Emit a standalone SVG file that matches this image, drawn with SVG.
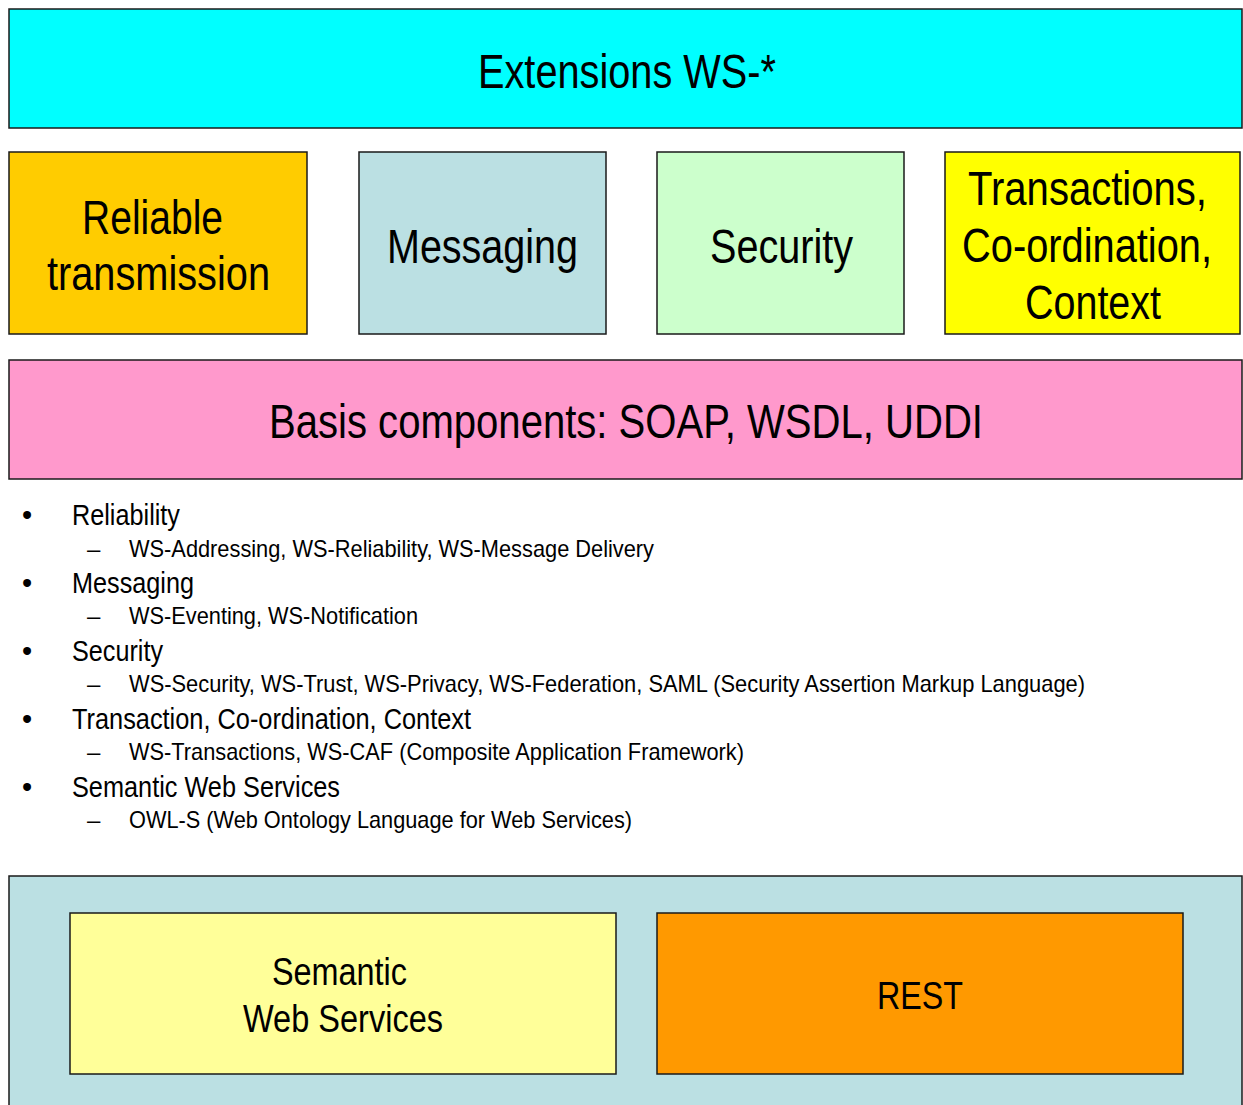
<svg xmlns="http://www.w3.org/2000/svg" width="1243" height="1105" viewBox="0 0 1243 1105">
<style>
.b{stroke:#1a1a1a;stroke-width:1.5}
text{font-family:"Liberation Sans Narrow","Arial Narrow","Liberation Sans",sans-serif;fill:#000}
.big{font-size:48px}
.h{font-size:29px}
.s{font-size:24px}
.m{font-size:38px}
</style>
<rect width="1243" height="1105" fill="#fff"/>
<g id="extensions"><rect class="b" x="9" y="9" width="1233" height="119" fill="#00FFFF"/><text class="big" x="478" y="88" textLength="298" lengthAdjust="spacingAndGlyphs">Extensions WS-*</text></g>
<g id="reliable"><rect class="b" x="9" y="152" width="298" height="182" fill="#FFCC00"/><text class="big" x="82" y="234" textLength="141" lengthAdjust="spacingAndGlyphs">Reliable</text><text class="big" x="47" y="290" textLength="223" lengthAdjust="spacingAndGlyphs">transmission</text></g>
<g id="messaging"><rect class="b" x="359" y="152" width="247" height="182" fill="#BBE0E3"/><text class="big" x="387" y="263" textLength="191" lengthAdjust="spacingAndGlyphs">Messaging</text></g>
<g id="security"><rect class="b" x="657" y="152" width="247" height="182" fill="#CCFFCC"/><text class="big" x="710" y="263" textLength="143" lengthAdjust="spacingAndGlyphs">Security</text></g>
<g id="transactions"><rect class="b" x="945" y="152" width="295" height="182" fill="#FFFF00"/><text class="big" x="968" y="205" textLength="239" lengthAdjust="spacingAndGlyphs">Transactions,</text><text class="big" x="962" y="262" textLength="250" lengthAdjust="spacingAndGlyphs">Co-ordination,</text><text class="big" x="1025" y="319" textLength="136" lengthAdjust="spacingAndGlyphs">Context</text></g>
<g id="basis"><rect class="b" x="9" y="360" width="1233" height="119" fill="#FF99CC"/><text class="big" x="269" y="438" textLength="714" lengthAdjust="spacingAndGlyphs">Basis components: SOAP, WSDL, UDDI</text></g>
<g id="list">
<text class="h" x="22" y="525">•</text><text class="h" x="72" y="525" textLength="108" lengthAdjust="spacingAndGlyphs">Reliability</text>
<text class="s" x="87" y="557">–</text><text class="s" x="129" y="557" textLength="525" lengthAdjust="spacingAndGlyphs">WS-Addressing, WS-Reliability, WS-Message Delivery</text>
<text class="h" x="22" y="593">•</text><text class="h" x="72" y="593" textLength="122" lengthAdjust="spacingAndGlyphs">Messaging</text>
<text class="s" x="87" y="624">–</text><text class="s" x="129" y="624" textLength="289" lengthAdjust="spacingAndGlyphs">WS-Eventing, WS-Notification</text>
<text class="h" x="22" y="661">•</text><text class="h" x="72" y="661" textLength="91" lengthAdjust="spacingAndGlyphs">Security</text>
<text class="s" x="87" y="692">–</text><text class="s" x="129" y="692" textLength="956" lengthAdjust="spacingAndGlyphs">WS-Security, WS-Trust, WS-Privacy, WS-Federation, SAML (Security Assertion Markup Language)</text>
<text class="h" x="22" y="729">•</text><text class="h" x="72" y="729" textLength="399" lengthAdjust="spacingAndGlyphs">Transaction, Co-ordination, Context</text>
<text class="s" x="87" y="760">–</text><text class="s" x="129" y="760" textLength="615" lengthAdjust="spacingAndGlyphs">WS-Transactions, WS-CAF (Composite Application Framework)</text>
<text class="h" x="22" y="797">•</text><text class="h" x="72" y="797" textLength="268" lengthAdjust="spacingAndGlyphs">Semantic Web Services</text>
<text class="s" x="87" y="828">–</text><text class="s" x="129" y="828" textLength="503" lengthAdjust="spacingAndGlyphs">OWL-S (Web Ontology Language for Web Services)</text>
</g>
<g id="bottom"><rect class="b" x="9" y="876" width="1233" height="240" fill="#BBE0E3"/></g>
<g id="semantic"><rect class="b" x="70" y="913" width="546" height="161" fill="#FFFF99"/><text class="m" x="272" y="985" textLength="135" lengthAdjust="spacingAndGlyphs">Semantic</text><text class="m" x="243" y="1032" textLength="200" lengthAdjust="spacingAndGlyphs">Web Services</text></g>
<g id="rest"><rect class="b" x="657" y="913" width="526" height="161" fill="#FF9900"/><text class="m" x="877" y="1009" textLength="86" lengthAdjust="spacingAndGlyphs">REST</text></g>
<g id="connectors"></g>
</svg>
